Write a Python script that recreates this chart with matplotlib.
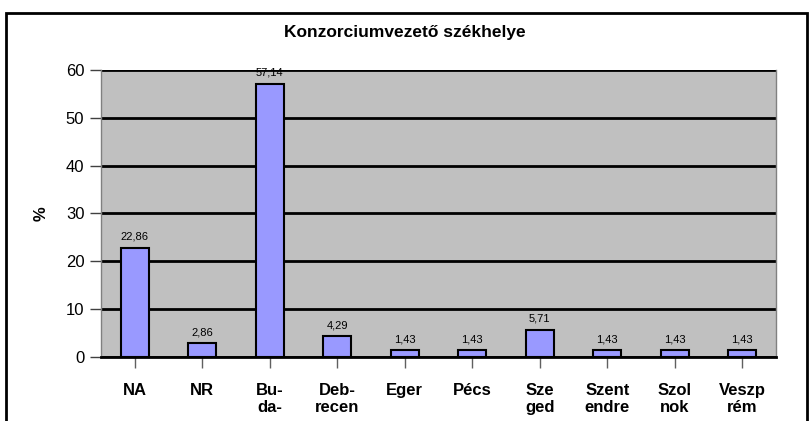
import numpy as np
import matplotlib.pyplot as plt
from matplotlib.patches import Rectangle

plt.rcParams['font.family'] = ['Liberation Sans', 'DejaVu Sans']

categories = ["NA", "NR", "Bu-\nda-", "Deb-\nrecen", "Eger", "Pécs",
              "Sze\nged", "Szent\nendre", "Szol\nnok", "Veszp\nrém"]
values = [22.86, 2.86, 57.14, 4.29, 1.43, 1.43, 5.71, 1.43, 1.43, 1.43]
yticks = [0, 10, 20, 30, 40, 50, 60]

fig = plt.figure(figsize=(8.1, 4.21), dpi=100)
ax = fig.add_axes([0.1247, 0.152, 0.9580 - 0.1247, 0.834 - 0.152])

# outer frame of the chart (open at the bottom)
fig.add_artist(Rectangle((6 / 810, -0.2), 801 / 810, 1.2 - 13 / 421,
                         transform=fig.transFigure, fill=False,
                         edgecolor='black', linewidth=2, clip_on=False))

x = np.arange(len(categories))
ax.set_facecolor('#C0C0C0')
ax.set_axisbelow(True)
ax.yaxis.grid(True, color='black', linewidth=2)
ax.bar(x, values, width=0.41, color='#9999FF', edgecolor='black', linewidth=1.5, zorder=3)

for xi, v in zip(x, values):
    ax.text(xi, v + 1.2, f"{v:.2f}".replace('.', ','), ha='center', va='bottom',
            fontsize=8, zorder=4)

ax.set_xlim(-0.5, len(categories) - 0.5)
ax.set_ylim(0, 60)
ax.set_yticks(yticks)
ax.set_xticks(x)
ax.set_xticklabels(categories, fontsize=12, fontweight='bold', linespacing=1.1, va='top')
ax.tick_params(axis='y', labelsize=12, length=8, width=1, color='#404040', pad=4)
ax.tick_params(axis='x', length=8, width=1, color='#606060', pad=11)

for side in ['left', 'right']:
    ax.spines[side].set_color('#808080')
    ax.spines[side].set_linewidth(1)
ax.spines['top'].set_visible(False)
ax.spines['bottom'].set_color('black')
ax.spines['bottom'].set_linewidth(2)

ax.set_ylabel('%', fontsize=12, fontweight='bold', labelpad=12)
fig.text(0.5, 1 - 33 / 421, 'Konzorciumvezető székhelye', ha='center', va='center',
         fontsize=12.5, fontweight='bold')

fig.savefig('out.png', dpi=100)
